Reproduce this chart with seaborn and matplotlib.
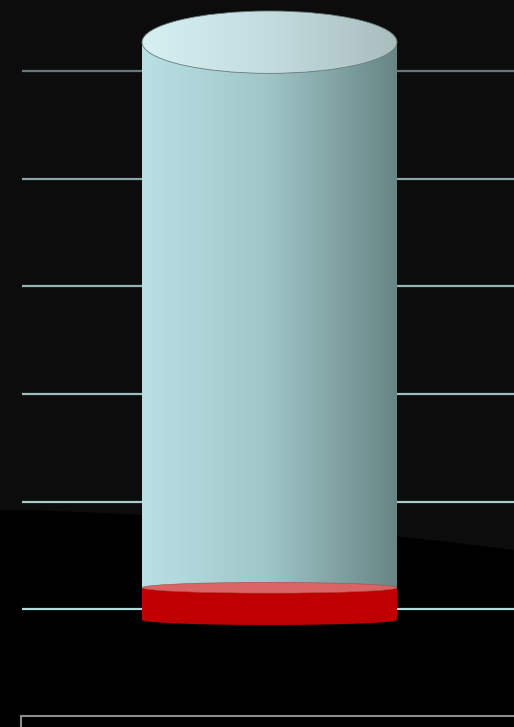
import numpy as np
import matplotlib
matplotlib.use("Agg")
import matplotlib.pyplot as plt
import seaborn as sns
from matplotlib.colors import LinearSegmentedColormap
from matplotlib.patches import Ellipse, Rectangle, Polygon

# Data
categories = ["Total"]
base_values = [0.3]      # red segment
top_values = [5.07]      # light blue segment
grid_ticks = [0, 1, 2, 3, 4, 5]
depth_offset = 0.1       # back wall grid sits a bit above the bar front

grid_colors = ["#b2dadd", "#a6cbcd", "#9cbfc0", "#93b4b5", "#88a6a7", "#627a7b"]

sns.set_theme(style="dark")
fig = plt.figure(figsize=(5.14, 7.27), dpi=100, facecolor="#0c0c0c")
ax = fig.add_axes([0, 0, 1, 1])
ax.set_facecolor("#0c0c0c")

totals = [b + t for b, t in zip(base_values, top_values)]
sns.barplot(x=categories, y=totals, width=0.496, color="#a8d0d2", ax=ax)
sns.barplot(x=categories, y=base_values, width=0.496, color="#c00000", ax=ax)

xlim = (-269.5 / 514, 1 - 269.5 / 514)
ylim = (-(727 - 620) / 107.6, 620 / 107.6)

# background: darker floor below a soft curve
xs = np.linspace(0, 1, 60)
ys = 1 - (510 + 40 * xs ** 1.6) / 727
floor = Polygon(np.column_stack([np.r_[xs, 1, 0], np.r_[ys, -0.01, -0.01]]),
                transform=ax.transAxes, facecolor="#000000", edgecolor="none", zorder=0)
ax.add_patch(floor)

# grid lines on the back wall
x_left = xlim[0] + 22 / 514
for t, c in zip(grid_ticks, grid_colors):
    ax.hlines(t + depth_offset, x_left, xlim[1], colors=c, lw=1.6, zorder=1)


def gradient(ax, extent, colors, clip=None, z=3):
    cmap = LinearSegmentedColormap.from_list("g", colors)
    im = ax.imshow(np.linspace(0, 1, 256).reshape(1, -1), cmap=cmap, aspect="auto",
                   extent=extent, interpolation="bicubic", zorder=z)
    if clip is not None:
        im.set_clip_path(clip)
    return im


blue_bar, red_bar = ax.patches[0], ax.patches[1]
side_cols = ["#b9e1e5", "#9fc5c7", "#678585"]
top_cols = ["#d6eff1", "#c3dcdf", "#a9bdbd"]

for p in (blue_bar, red_bar):
    p.set_visible(False)

# blue cylinder
x0 = blue_bar.get_x()
w = blue_bar.get_width()
cx = x0 + w / 2
top = blue_bar.get_height()
bot = red_bar.get_height()
gradient(ax, [x0, x0 + w, bot, top], side_cols, z=3)
top_ell = Ellipse((cx, top), w, 0.58, facecolor="none", edgecolor="#6a7a7a", lw=0.6, zorder=5)
ax.add_patch(top_ell)
clip_ell = Ellipse((cx, top), w, 0.58, transform=ax.transData)
ax.add_patch(clip_ell)
clip_ell.set_visible(False)
gradient(ax, [x0, x0 + w, top - 0.3, top + 0.3], top_cols, clip=clip_ell, z=4)

# red cylinder
ax.add_patch(Ellipse((cx, 0), w, 0.093, facecolor="#bd0000", edgecolor="none", zorder=6))
ax.add_patch(Rectangle((x0, 0), w, bot, facecolor="#c00000", edgecolor="none", zorder=6))
ax.add_patch(Ellipse((cx, bot), w, 0.10, facecolor="#d86464", edgecolor="#b04848",
                     lw=0.4, zorder=7))

# legend box edge at the bottom (cut off)
ax.add_patch(Rectangle((21 / 514, -0.05), 1, 0.05 + (727 - 716) / 727, transform=ax.transAxes,
                       facecolor="none", edgecolor="#8c8c8c", lw=1.5, zorder=8))

ax.set_xlim(*xlim)
ax.set_ylim(*ylim)
ax.axis("off")

fig.savefig("out.png", dpi=100, facecolor=fig.get_facecolor())
